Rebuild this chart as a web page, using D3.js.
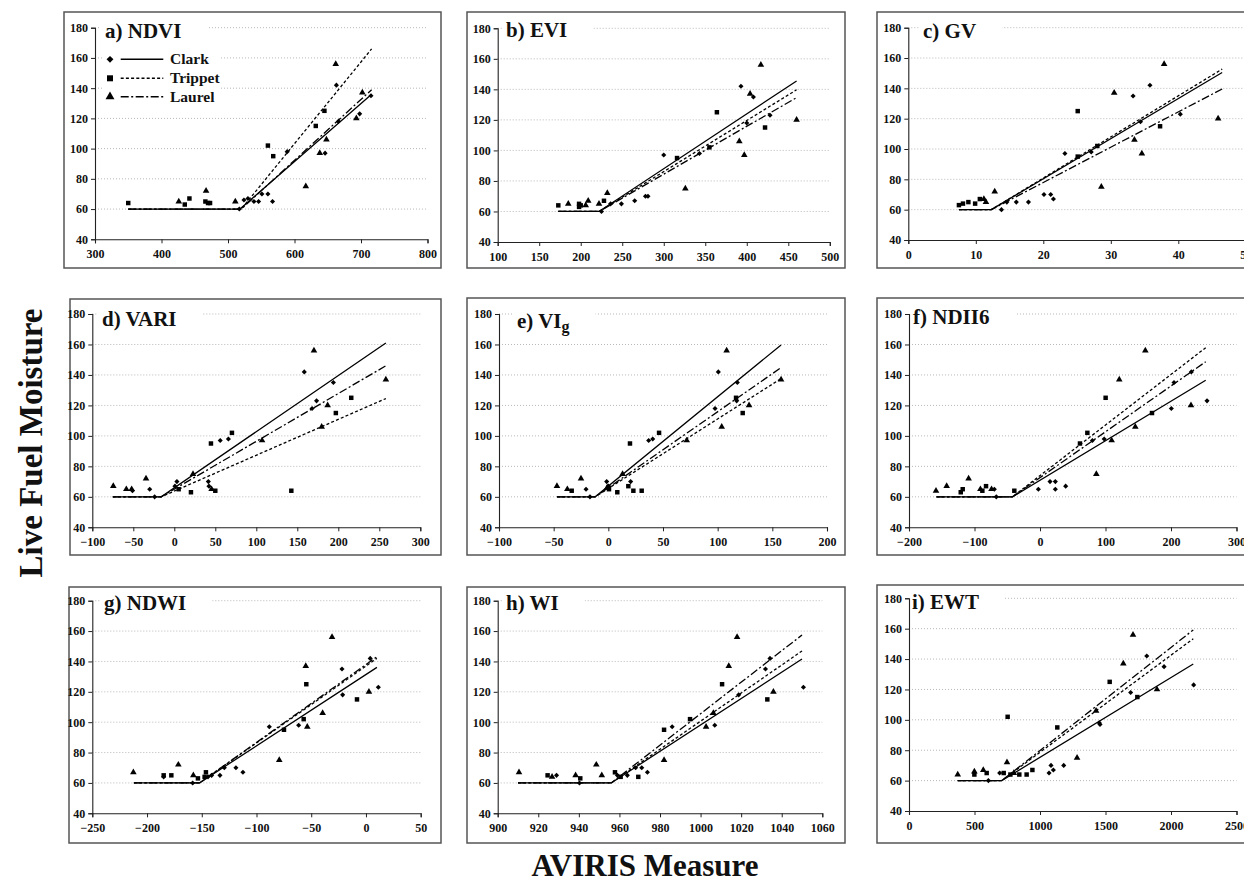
<!DOCTYPE html>
<html><head><meta charset="utf-8">
<script src="https://cdn.jsdelivr.net/npm/d3@7/dist/d3.min.js"></script>
<style>body{margin:0;background:#fff} svg{display:block}</style>
</head><body>
<svg id="chart" width="1244" height="884"></svg>
<script>
// ---------- shared ----------
const sites = ["Clark", "Trippet", "Laurel"];
const yTicks = [40, 60, 80, 100, 120, 140, 160, 180];
const yLabel = "Live Fuel Moisture";
const xLabel = "AVIRIS Measure";

// ---------- a) NDVI ----------
const ndviXTicks = [300, 400, 500, 600, 700, 800];
const ndviClark = [[517,60],[524,66],[530,67],[539,65],[546,65],[551,70],[560,70],[567,65],[589,98],[646,97],[663,142],[666,118],[698,123],[715,135]];
const ndviTrippet = [[350,64],[435,63],[442,67],[466,65],[470,64],[473,64],[560,102],[568,95],[632,115],[645,125]];
const ndviLaurel = [[426,65],[467,72],[511,65],[617,75],[638,97],[648,106],[662,156],[693,120],[702,137]];
const ndviFits = [[[350,60],[518,60],[716,136]], [[350,60],[520,60],[716,166]], [[350,60],[520,60],[716,139]]];

// ---------- b) EVI ----------
const eviXTicks = [100, 150, 200, 250, 300, 350, 400, 450, 500];
const eviClark = [[225,60],[236,65],[249,65],[265,67],[278,70],[281,70],[300,97],[343,98],[393,142],[400,118],[408,135],[428,123]];
const eviTrippet = [[173,64],[198,65],[198,63],[200,64],[228,67],[316,95],[355,102],[364,125],[422,115]];
const eviLaurel = [[185,65],[206,64],[209,67],[222,65],[232,72],[326,75],[391,106],[397,97],[404,137],[417,156],[460,120]];
const eviFits = [[[173,60],[222,60],[460,145.5]], [[173,60],[222,60],[460,139.7]], [[173,60],[222,60],[460,134.6]]];

// ---------- c) GV ----------
const gvXTicks = [0, 10, 20, 30, 40, 50];
const gvClark = [[13.8,60],[14.6,65],[16.0,65],[17.8,65],[20.1,70],[21.1,70],[21.5,67],[23.2,97],[27.1,98],[33.3,135],[34.4,118],[35.8,142],[40.3,123]];
const gvTrippet = [[7.5,63],[8.1,64],[8.9,65],[9.9,64],[10.6,67],[25.1,125],[25.1,95],[28.0,102],[37.3,115]];
const gvLaurel = [[11.2,67],[11.5,65],[12.8,72],[28.6,75],[30.5,137],[33.5,106],[34.6,97],[37.9,156],[45.9,120]];
const gvFits = [[[7.5,60],[12.3,60],[46.5,150.5]], [[7.5,60],[12.3,60],[46.5,152.7]], [[7.5,60],[12.3,60],[46.5,139.6]]];

// ---------- d) VARI ----------
const variXTicks = [-100, -50, 0, 50, 100, 150, 200, 250, 300];
const variClark = [[-51,64],[-30,65],[-24,60],[0.8,67],[3.2,70],[41.5,70],[42.3,67],[56,97],[66,98],[158.5,142],[168,118],[173.5,123],[194,135]];
const variTrippet = [[5.3,65],[20.3,63],[44.7,95],[50,64],[70.3,102],[142.7,64],[197,115],[215.8,125]];
const variLaurel = [[-74.4,67],[-58.5,65],[-52,65],[-34.5,72],[22.8,75],[45.5,65],[107,97],[170.3,156],[179.7,106],[187,120],[258,137]];
const variFits = [[[-75,60],[-16,60],[258,161]], [[-75,60],[-16,60],[258,124.5]], [[-75,60],[-16,60],[258,146]]];

// ---------- e) VIg ----------
const vigXTicks = [-100, -50, 0, 50, 100, 150, 200];
const vigClark = [[-20.4,65],[-16.8,60],[-1.5,70],[0,67],[20.4,70],[36.9,97],[40.6,98],[97.6,118],[100.6,142],[117.4,123],[118,135]];
const vigTrippet = [[-33.5,64],[0.6,65],[8.2,63],[18.3,67],[19.8,95],[22.9,64],[30.5,64],[46.4,102],[116.8,125],[122.9,115]];
const vigLaurel = [[-47,67],[-37.5,65],[-25,72],[-1,66],[13,75],[71.7,97],[103.7,106],[108.2,156],[128.7,120],[158,137]];
const vigFits = [[[-47,60],[-12,60],[158,159.7]], [[-47,60],[-12,60],[158,137.6]], [[-47,60],[-12,60],[158,144.8]]];

// ---------- f) NDII6 ----------
const ndiiXTicks = [-200, -100, 0, 100, 200, 300];
const ndiiClark = [[-69.7,65],[-66.7,60],[-2.5,65],[15.3,70],[23.4,70],[23.4,65],[39.2,67],[80,97],[98,98],[200.5,118],[204.6,135],[231,142],[255,123]];
const ndiiTrippet = [[-121,63],[-118,65],[-88,64],[-82.4,67],[-39.2,64],[61,95],[72.3,102],[100.2,125],[171,115]];
const ndiiLaurel = [[-158.8,64],[-142.5,67],[-109,72],[-91,65],[-74,65],[86,75],[109.4,97],[121,137],[145.5,106],[160.8,156],[230.5,120]];
const ndiiFits = [[[-158,60],[-42,60],[253,136.5]], [[-158,60],[-42,60],[253,157.9]], [[-158,60],[-42,60],[253,148.7]]];

// ---------- g) NDWI ----------
const ndwiXTicks = [-250, -200, -150, -100, -50, 0, 50];
const ndwiClark = [[-184.8,64],[-158.3,60],[-144.3,64],[-141,65],[-133.4,65],[-129.4,70],[-118.8,70],[-112.4,67],[-88.3,97],[-61.5,98],[-21.9,135],[-21.3,118],[3.9,142],[11.3,123]];
const ndwiTrippet = [[-184.8,65],[-177.8,65],[-153.5,63],[-147.4,64],[-146.2,67],[-74.9,95],[-56.9,102],[-54.5,125],[-8.2,115]];
const ndwiLaurel = [[-212.5,67],[-171.4,72],[-157.7,65],[-79.2,75],[-55,137],[-53.6,97],[-39.6,106],[-31,156],[2.7,120]];
const ndwiFits = [[[-212,60],[-152,60],[10,136.1]], [[-212,60],[-152,60],[10,142]], [[-212,60],[-152,60],[10,143.1]]];

// ---------- h) WI ----------
const wiXTicks = [900, 920, 940, 960, 980, 1000, 1020, 1040, 1060];
const wiClark = [[929,65],[940.3,60],[959,65],[963.9,65],[968,70],[971,70],[973.8,67],[986,97],[1007,98],[1018.8,118],[1032,135],[1034.2,142],[1050.7,123]];
const wiTrippet = [[924.6,65],[940.7,63],[957.8,67],[960.6,64],[969.3,64],[982,95],[994.8,102],[1010.6,125],[1032.9,115]];
const wiLaurel = [[910.5,67],[926.8,64],[938.4,65],[948.6,72],[951.3,65],[982,75],[1002.7,97],[1006.3,106],[1013.9,137],[1018,156],[1035.9,120]];
const wiFits = [[[910,60],[956,60],[1050,141.6]], [[910,60],[956,60],[1050,146.9]], [[910,60],[956,60],[1050,157.4]]];

// ---------- i) EWT ----------
const ewtXTicks = [0, 500, 1000, 1500, 2000, 2500];
const ewtClark = [[606,60],[692,65],[1069,65],[1084,70],[1102,67],[1181,70],[1453,98],[1458,97],[1692,118],[1815,142],[1947,135],[2173,123]];
const ewtTrippet = [[499,64],[593,65],[723,65],[753,102],[774,64],[842,64],[898,64],[942,67],[1132,95],[1532,125],[1743,115]];
const ewtLaurel = [[372,64],[499,66],[567,67],[748,72],[800,65],[1283,75],[1428,106],[1636,137],[1710,156],[1893,120]];
const ewtFits = [[[372,60],[708,60],[2170,136.8]], [[372,60],[708,60],[2170,153.4]], [[372,60],[708,60],[2170,159.2]]];

// ---------- panel definitions (data refs + layout) ----------
const panels = [
  {label:"a) NDVI", ticks:ndviXTicks, pts:[ndviClark,ndviTrippet,ndviLaurel], fits:ndviFits,
   box:[64,12,441,268], xr:[95,427.5], yr:[239.3,27.7], tp:[105,38], legend:true},
  {label:"b) EVI", ticks:eviXTicks, pts:[eviClark,eviTrippet,eviLaurel], fits:eviFits,
   box:[467,12,845,268], xr:[497.7,829.8], yr:[242,28.3], tp:[506,37]},
  {label:"c) GV", ticks:gvXTicks, pts:[gvClark,gvTrippet,gvLaurel], fits:gvFits,
   box:[877,12,1290,268], xr:[908.3,1245.8], yr:[240,27.7], tp:[923,38]},
  {label:"d) VARI", ticks:variXTicks, pts:[variClark,variTrippet,variLaurel], fits:variFits,
   box:[70,299,441,555], xr:[92.3,420.3], yr:[527.3,314], tp:[102,326]},
  {label:"e) VI", sub:"g", ticks:vigXTicks, pts:[vigClark,vigTrippet,vigLaurel], fits:vigFits,
   box:[467,298,845,555], xr:[499,827], yr:[527.3,314], tp:[517,328]},
  {label:"f) NDII6", ticks:ndiiXTicks, pts:[ndiiClark,ndiiTrippet,ndiiLaurel], fits:ndiiFits,
   box:[877,298,1290,555], xr:[909,1236.5], yr:[527.3,314], tp:[913,324]},
  {label:"g) NDWI", ticks:ndwiXTicks, pts:[ndwiClark,ndwiTrippet,ndwiLaurel], fits:ndwiFits,
   box:[69,587,441,843], xr:[92.3,420.7], yr:[813.3,600.7], tp:[104,610]},
  {label:"h) WI", ticks:wiXTicks, pts:[wiClark,wiTrippet,wiLaurel], fits:wiFits,
   box:[467,587,845,843], xr:[497.7,822.3], yr:[813.3,600.7], tp:[506,610]},
  {label:"i) EWT", ticks:ewtXTicks, pts:[ewtClark,ewtTrippet,ewtLaurel], fits:ewtFits,
   box:[877,585,1290,843], xr:[909,1236.5], yr:[811,598.3], tp:[912,609]}
];

const FONT = "'Liberation Serif','Times New Roman',serif";
// diamond = square rotated 45deg
const symbols = [d3.symbolSquare, d3.symbolSquare, d3.symbolTriangle];
const symRot = [45, 0, 0];
const symSizes = [13, 20, 19];
const dashes = [null, "3,2.2", "8,2.5,2,2.5"];

const svg = d3.select("#chart");

panels.forEach(p => {
  const g = svg.append("g");
  const [bx0, by0, bx1, by1] = p.box;
  g.append("rect").attr("x", bx0).attr("y", by0).attr("width", bx1 - bx0).attr("height", by1 - by0)
    .attr("fill", "#fff").attr("stroke", "#555").attr("stroke-width", 1.5);

  const x = d3.scaleLinear().domain([p.ticks[0], p.ticks[p.ticks.length - 1]]).range(p.xr);
  const y = d3.scaleLinear().domain([40, 180]).range(p.yr);

  // gridlines
  g.append("g").selectAll("line").data(yTicks.slice(1)).join("line")
    .attr("x1", p.xr[0]).attr("x2", p.xr[1])
    .attr("y1", d => y(d)).attr("y2", d => y(d))
    .attr("stroke", "#b8b8b8").attr("stroke-width", 1).attr("stroke-dasharray", "1,2");

  // title with white background
  const tg = g.append("g");
  const bg = tg.append("rect").attr("fill", "#fff");
  const t = tg.append("text").attr("x", p.tp[0]).attr("y", p.tp[1])
    .attr("font-family", FONT).attr("font-weight", "bold").attr("font-size", 21).attr("fill", "#111")
    .text(p.label);
  if (p.sub) t.append("tspan").attr("font-size", 16).attr("dy", 4).text(p.sub);
  const bb = t.node().getBBox();
  bg.attr("x", bb.x - 4).attr("y", bb.y - 2).attr("width", bb.width + 30).attr("height", bb.height + 2);

  // legend
  if (p.legend) {
    const lg = g.append("g");
    lg.append("rect").attr("x", 102).attr("y", 48).attr("width", 118).attr("height", 58).attr("fill", "#fff");
    const rows = [59.3, 78.3, 96.7];
    sites.forEach((s, i) => {
      lg.append("path").attr("d", d3.symbol(symbols[i], symSizes[i] * 1.8)())
        .attr("transform", `translate(110,${rows[i]}) rotate(${symRot[i]})`).attr("fill", "#000");
      lg.append("line").attr("x1", 120.7).attr("x2", 163.3).attr("y1", rows[i]).attr("y2", rows[i])
        .attr("stroke", "#000").attr("stroke-width", 1.6).attr("stroke-dasharray", dashes[i]);
      lg.append("text").attr("x", 170).attr("y", rows[i] + 5)
        .attr("font-family", FONT).attr("font-weight", "bold").attr("font-size", 15.5).attr("fill", "#111")
        .text(s);
    });
  }

  // axes
  const ya = g.append("g").attr("transform", `translate(${p.xr[0]},0)`)
    .call(d3.axisLeft(y).tickValues(yTicks).tickSize(4).tickPadding(3).tickFormat(d3.format("d")));
  const xa = g.append("g").attr("transform", `translate(0,${p.yr[0]})`)
    .call(d3.axisBottom(x).tickValues(p.ticks).tickSize(4).tickPadding(6).tickFormat(d3.format("d")));
  [ya, xa].forEach(a => {
    a.select(".domain").attr("stroke", "#222").attr("stroke-width", 1.1);
    a.selectAll(".tick line").attr("stroke", "#222");
    a.selectAll(".tick text").attr("font-family", FONT).attr("font-weight", "bold")
      .attr("font-size", 12).attr("fill", "#111");
  });

  // fit lines
  const line = d3.line().x(d => x(d[0])).y(d => y(d[1]));
  p.fits.forEach((f, i) => {
    g.append("path").attr("d", line(f)).attr("fill", "none").attr("stroke", "#000")
      .attr("stroke-width", 1.3).attr("stroke-dasharray", dashes[i]);
  });

  // points
  p.pts.forEach((arr, i) => {
    g.append("g").selectAll("path").data(arr).join("path")
      .attr("d", d3.symbol(symbols[i], symSizes[i])())
      .attr("transform", d => `translate(${x(d[0])},${y(d[1])}) rotate(${symRot[i]})`)
      .attr("fill", "#000");
  });
});

// axis titles
svg.append("text").attr("transform", "translate(42,443) rotate(-90)")
  .attr("text-anchor", "middle").attr("font-family", FONT).attr("font-weight", "bold")
  .attr("font-size", 33).attr("fill", "#111").text(yLabel);
svg.append("text").attr("x", 645).attr("y", 876)
  .attr("text-anchor", "middle").attr("font-family", FONT).attr("font-weight", "bold")
  .attr("font-size", 31).attr("fill", "#111").text(xLabel);
</script>
</body></html>
